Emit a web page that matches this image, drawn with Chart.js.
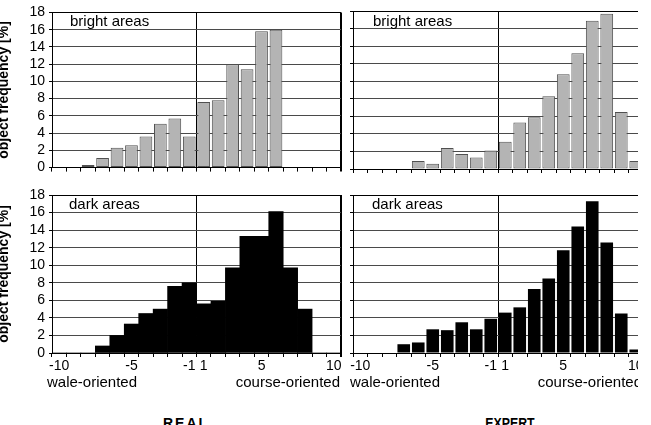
<!DOCTYPE html>
<html><head><meta charset="utf-8">
<script src="https://cdn.jsdelivr.net/npm/chart.js@4"></script>
<style>
html,body{margin:0;padding:0;background:#fff;width:651px;height:425px;overflow:hidden;}
#wrap{position:absolute;left:0;top:0;width:638px;height:425px;overflow:hidden;}
canvas{position:absolute;}
.lbl{position:absolute;font-family:'Liberation Sans',Arial,sans-serif;font-size:15px;line-height:15px;color:#000;white-space:nowrap;}
.big{position:absolute;font-family:'Liberation Sans',Arial,sans-serif;font-size:14px;line-height:14px;font-weight:bold;color:#000;white-space:nowrap;text-align:center;width:120px;}
</style></head><body>
<div id="wrap">
<canvas id="tl" width="355" height="180" style="left:-10px;top:0"></canvas>
<canvas id="bl" width="355" height="210" style="left:-10px;top:180px"></canvas>
<canvas id="tr" width="300" height="180" style="left:345px;top:0"></canvas>
<canvas id="br" width="300" height="210" style="left:345px;top:180px"></canvas>
<div class="lbl" style="left:70px;top:13px">bright areas</div>
<div class="lbl" style="left:373px;top:13px">bright areas</div>
<div class="lbl" style="left:69px;top:196px">dark areas</div>
<div class="lbl" style="left:372px;top:196px">dark areas</div>
<div class="lbl" style="left:47px;top:374px">wale-oriented</div>
<div class="lbl" style="left:180px;width:160px;text-align:right;top:374px">course-oriented</div>
<div class="lbl" style="left:350px;top:374px">wale-oriented</div>
<div class="lbl" style="left:482px;width:160px;text-align:right;top:374px">course-oriented</div>
<div class="big" style="left:126px;top:416px;letter-spacing:2px">REAL</div>
<div class="big" style="left:450px;top:416px;transform:scaleX(0.88)">EXPERT</div>
</div>
<script>
const categories = ['-10','-9','-8','-7','-6','-5','-4','-3','-2','-1','1','2','3','4','5','6','7','8','9','10'];
const shownTickLabels = ['-10','-5','-1','1','5','10'];
const realBright   = [0,0,0.3,1.1,2.3,2.6,3.6,5.1,5.7,3.6,7.6,7.8,12.0,11.4,15.8,16.0,0,0,0,0];
const expertBright = [0,0,0,0,0.9,0.6,2.4,1.7,1.3,2.1,3.1,5.3,5.9,8.3,10.8,13.2,16.9,17.7,6.5,0.9];
const realDark     = [0,0,0,0.8,2.0,3.3,4.5,5.0,7.6,8.0,5.6,5.9,9.7,13.3,13.3,16.1,9.7,5.0,0,0];
const expertDark   = [0,0,0,1.0,1.2,2.7,2.6,3.5,2.7,3.9,4.6,5.2,7.3,8.5,11.7,14.4,17.3,12.6,4.5,0.4];
const yTitle = 'object frequency [%]';

Chart.defaults.font.family = "'Liberation Sans', Arial, sans-serif";
Chart.defaults.color = '#000';

function makeChart(id, values, o) {
  return new Chart(document.getElementById(id), {
    type: 'bar',
    data: { labels: categories, datasets: [{
      data: values,
      backgroundColor: o.fill,
      borderColor: o.stroke,
      borderWidth: o.bw,
      borderSkipped: false,
      barPercentage: o.barPct,
      categoryPercentage: 1
    }]},
    options: {
      responsive: false,
      devicePixelRatio: 1,
      animation: false,
      layout: { padding: { left: 0, right: o.padRight, top: o.padTop, bottom: 0 } },
      plugins: { legend: { display: false }, tooltip: { enabled: false } },
      scales: {
        x: {
          offset: true,
          grid: {
            offset: true,
            color: c => (c.index === 10 || c.index === undefined) ? '#000' : 'rgba(0,0,0,0)',
            lineWidth: c => c.index === undefined ? 2 : 1,
            drawTicks: true,
            tickLength: 4,
            tickColor: '#000'
          },
          border: { color: '#000' },
          ticks: {
            display: o.xLabels,
            autoSkip: false,
            maxRotation: 0,
            minRotation: 0,
            padding: 1,
            color: '#000',
            font: { size: 14 },
            callback: function (v) { const l = this.getLabelForValue(v); return shownTickLabels.includes(l) ? l : ''; }
          },
          afterFit: s => { s.height = o.xHeight; }
        },
        y: {
          min: 0, max: 18,
          ticks: { display: o.yLabels, autoSkip: false, stepSize: 2, padding: 4, color: '#000', font: { size: 14 } },
          grid: {
            color: c => (c.tick && c.tick.value === 18) ? '#000' : '#4a4a4a',
            tickLength: 3,
            tickColor: '#000'
          },
          border: { color: '#000' },
          title: {
            display: o.yLabels,
            text: yTitle,
            color: '#000',
            font: { size: 14, weight: 'bold' },
            padding: { top: 5.6, bottom: 0 }
          },
          afterFit: s => { s.width = o.yWidth; }
        }
      }
    }
  });
}

const grayFill = '#b4b4b4', grayStroke = '#505050';
makeChart('tl', realBright,   { fill: grayFill, stroke: grayStroke, bw: 1, barPct: 0.88, padRight: 4, padTop: 11, xHeight: 11, xLabels: false, yLabels: true, yWidth: 62 });
makeChart('bl', realDark,     { fill: '#000', stroke: '#000', bw: 0, barPct: 1.0, padRight: 4, padTop: 15, xHeight: 37, xLabels: true, yLabels: true, yWidth: 62 });
makeChart('tr', expertBright, { fill: grayFill, stroke: grayStroke, bw: 1, barPct: 0.88, padRight: 2, padTop: 11, xHeight: 11, xLabels: false, yLabels: false, yWidth: 8 });
makeChart('br', expertDark,   { fill: '#000', stroke: '#000', bw: 0, barPct: 0.87, padRight: 2, padTop: 15, xHeight: 37, xLabels: true, yLabels: false, yWidth: 8 });
</script>
</body></html>
